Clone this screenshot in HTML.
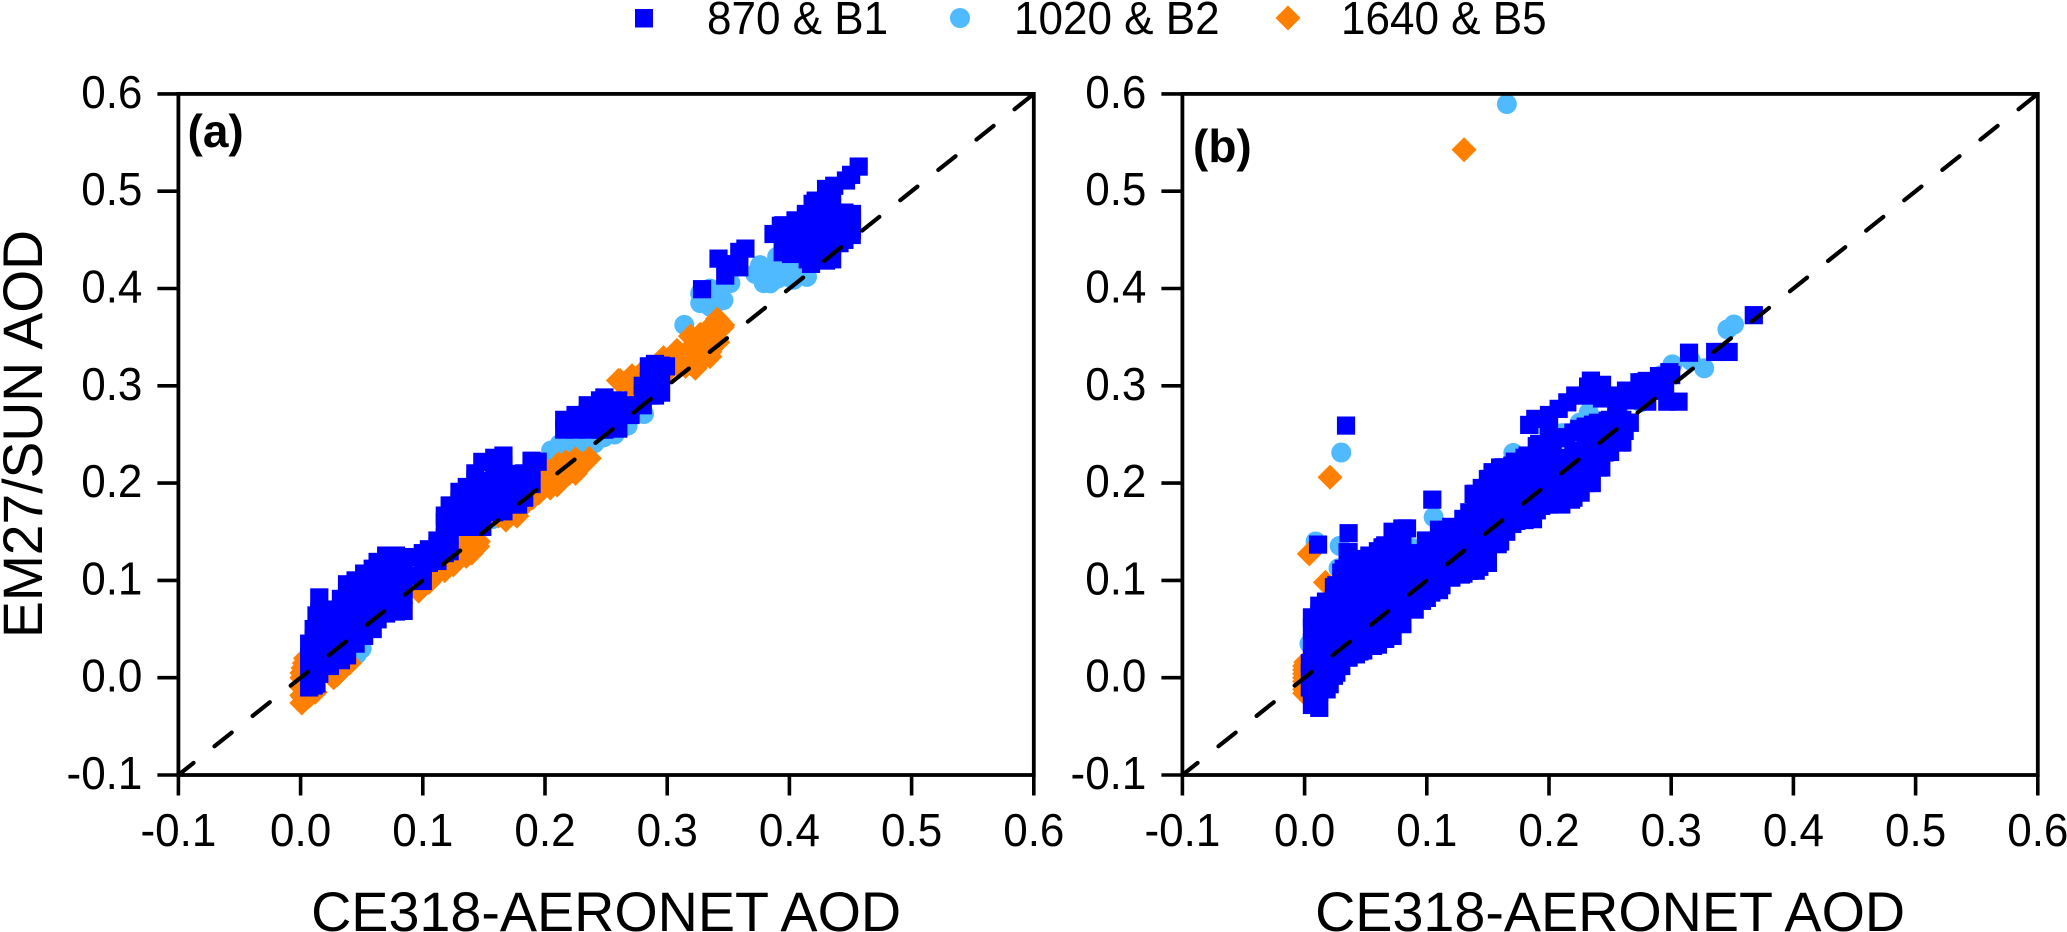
<!DOCTYPE html>
<html lang="en">
<head>
<meta charset="utf-8">
<title>EM27/SUN vs CE318-AERONET AOD</title>
<style>
html,body{margin:0;padding:0;background:#fff;width:2067px;height:932px;overflow:hidden}
svg{display:block}
text{font-family:"Liberation Sans",Arial,sans-serif;fill:#000}
</style>
</head>
<body>
<svg id="chart" xmlns="http://www.w3.org/2000/svg" width="2067" height="932" viewBox="0 0 2067 932">
  <rect x="0" y="0" width="2067" height="932" fill="#fff"/>
  <g>
    <rect x="635" y="9" width="18" height="18.5" fill="#0000ff"/>
    <text transform="translate(707,34) scale(.957,1)" font-size="46">870 &amp; B1</text>
    <circle cx="960" cy="18" r="10" fill="#4fbaff"/>
    <text transform="translate(1014,34) scale(.957,1)" font-size="46">1020 &amp; B2</text>
    <polygon points="1288,5.5 1300.5,18 1288,30.5 1275.5,18" fill="#ff8000"/>
    <text transform="translate(1341,34) scale(.957,1)" font-size="46">1640 &amp; B5</text>
  </g>
  <g id="panel-a"></g>
  <g id="panel-b"></g>
  <text transform="translate(42,434) rotate(-90)" text-anchor="middle" font-size="56" textLength="408" lengthAdjust="spacingAndGlyphs">EM27/SUN AOD</text>
</svg>
<script>
const xTickLabels = ["-0.1","0.0","0.1","0.2","0.3","0.4","0.5","0.6"];
const yTickLabels = ["-0.1","0.0","0.1","0.2","0.3","0.4","0.5","0.6"];
const oneToOne = [-0.1, 0.6];

const a1020 = [[.314,.3626],[.327,.395],[.335,.3814],[.346,.388],[.3517,.4056],[.335,.40],[.342,.395],[.327,.385],[.34,.385],[.376,.424],[.379,.4055],[.3844,.4053],[.39,.4327],[.398,.4122],[.4035,.409],[.4144,.412],[.39,.42],[.382,.415],[.372,.415],[.38,.42],[.39,.41],[.40,.418],[.41,.415],[.405,.425],[.205,.2335],[.219,.2366],[.23,.238],[.2405,.241],[.257,.25],[.2676,.259],[.281,.271],[.212,.24],[.225,.24],[.235,.24],[.248,.247],[.157,.163],[.148,.155],[.046,.024],[.05,.03],[.04,.018],[.01,-.012],[.12,.15],[.125,.155],[.013,.05]];

const a1640 = [[.001,-.026],[.001,-.01],[.001,0],[.002,.01],[.004,.02],[.004,-.021],[.012,-.015],[.002,-.02],[.006,-.02],[.001,-.018],[.008,-.018],[.001,.005],[.003,.015],[.027,0],[.03,.003],[.035,.01],[.04,.015],[.0966,.089],[.10,.095],[.105,.098],[.11,.105],[.12,.115],[.115,.112],[.118,.11],[.125,.12],[.125,.116],[.13,.125],[.1356,.1247],[.1455,.14],[.14,.132],[.14,.128],[.145,.135],[.135,.14],[.13,.135],[.162,.166],[.168,.162],[.172,.167],[.177,.166],[.17,.17],[.18,.175],[.19,.185],[.185,.18],[.195,.19],[.2043,.195],[.2363,.2255],[.21,.2],[.21,.198],[.215,.205],[.22,.21],[.225,.21],[.23,.22],[.232,.22],[.205,.21],[.217,.222],[.215,.215],[.225,.225],[.21,.212],[.2,.2],[.2,.215],[.211,.2197],[.2235,.216],[.2615,.3053],[.2712,.3104],[.26,.3055],[.278,.312],[.285,.305],[.27,.3],[.28,.305],[.297,.329],[.308,.3364],[.319,.351],[.327,.353],[.341,.3687],[.3455,.3623],[.323,.318],[.335,.33],[.3414,.3447],[.31,.32],[.32,.33],[.33,.34],[.33,.35],[.34,.355],[.325,.322],[.3,.325],[.315,.33],[.335,.335],[.345,.36],[.30,.315],[.315,.32],[.325,.325],[.33,.33],[.335,.345],[.335,.36],[.32,.34],[.31,.33]];

const a870 = [
[.007,-.010],[.007,.006],[.007,.022],[.007,.035],
[.0107,-.008],[.0107,.008],[.0107,.024],[.0107,.04],[.0107,.05],
[.013,-.006],[.013,.012],[.013,.03],[.013,.048],[.013,.064],
[.0153,.004],[.0153,.02],[.0153,.036],[.0153,.052],[.0153,.068],[.0153,.0825],
[.024,.012],[.024,.028],[.024,.045],[.024,.06],[.024,.07],
[.033,.018],[.033,.034],[.033,.05],[.033,.066],[.033,.081],
[.038,.023],[.038,.039],[.038,.055],[.038,.071],[.038,.087],[.038,.096],
[.045,.035],[.045,.051],[.045,.067],[.045,.083],[.045,.1],
[.052,.043],[.052,.059],[.052,.075],[.052,.091],[.052,.107],
[.059,.05],[.059,.066],[.059,.082],[.059,.098],[.059,.112],
[.063,.06],[.063,.076],[.063,.092],[.063,.108],[.063,.119],
[.07,.066],[.07,.082],[.07,.098],[.07,.114],[.07,.1255],
[.078,.068],[.078,.084],[.078,.1],[.078,.116],[.078,.1255],
[.0843,.0686],[.0843,.085],[.0843,.1],[.0843,.118],
[.092,.105],[.092,.124],
[.1,.0994],[.1,.115],[.1,.128],
[.105,.118],[.105,.132],
[.112,.12],[.112,.135],[.112,.141],
[.118,.128],[.118,.144],[.118,.16],[.118,.1666],
[.122,.13],[.122,.146],[.122,.162],[.122,.177],
[.13,.155],[.13,.171],[.13,.181],[.13,.191],
[.136,.155],[.136,.171],[.136,.187],[.136,.196],
[.143,.155],[.143,.171],[.143,.187],[.143,.203],[.143,.21],
[.1487,.155],[.1487,.17],[.1487,.186],[.1487,.202],[.1487,.2218],
[.1585,.17],[.1585,.186],[.1585,.202],[.1585,.218],[.1585,.226],
[.166,.171],[.166,.187],[.166,.203],[.166,.219],[.166,.2283],
[.175,.178],[.175,.194],[.175,.2095],
[.178,.178],[.178,.194],[.178,.208],
[.183,.185],[.183,.2],[.183,.21],
[.189,.199],[.189,.215],[.189,.223],
[.194,.222],
[.2157,.255],[.2157,.265],[.225,.255],[.225,.262],[.225,.27],[.235,.255],[.235,.265],[.235,.272],[.235,.28],[.245,.255],[.245,.27],[.245,.285],[.2486,.255],[.2486,.272],[.2486,.288],
[.26,.256],[.26,.27],[.26,.275],[.26,.285],[.27,.27],[.27,.28],[.28,.28],[.28,.29],[.28,.30],[.29,.29],[.29,.30],[.29,.32],[.285,.29],[.285,.305],[.285,.32],[.295,.293],[.295,.31],[.299,.32],[.29,.3225],[.2946,.30],[.2946,.3207],
[.3285,.3993],[.342,.4307],[.3475,.4133],[.359,.4376],[.364,.441],[.359,.4218],[.35,.425],
[.387,.456],[.393,.4644],[.3945,.4373],[.4013,.4355],[.4053,.4698],[.4135,.4766],[.419,.487],[.4215,.4903],[.43,.5023],[.4367,.5056],[.4463,.511],[.4505,.5168],[.4567,.5253],[.4512,.4766],[.4512,.468],
[.4177,.4253],[.43,.4287],[.441,.4466],[.4512,.46],
[.395,.445],[.395,.455],[.395,.465],[.405,.44],[.405,.45],[.405,.46],[.405,.47],[.415,.43],[.415,.445],[.415,.46],[.415,.475],[.425,.43],[.425,.445],[.425,.46],[.425,.475],[.425,.49],[.435,.43],[.435,.445],[.435,.46],[.435,.475],[.435,.49],[.445,.45],[.445,.465],[.445,.478],[.451,.455],[.451,.47]
];

const b1020 = [[.03,.2314],[.1056,.165],[.0287,.1355],[.009,.14],[.0278,.1125],[.004,.035],[.1655,.5896],[.346,.358],[.3514,.363],[.301,.322],[.327,.318],[.316,.326],[.292,.311],[.1708,.231],[.2325,.2725],[.2106,.2513],[.225,.262],[.088,.1333],[.1155,.147],[.195,.26],[.255,.27],[.275,.283]];

const b1640 = [[.0208,.206],[.0038,.1272],[.1305,.5426],[.017,.098],[0,.008],[0,-.012],[.002,.012],[.002,-.018],[0,0],[0,.004],[0,-.004],[0,.012],[0,-.008],[0,-.016],[.001,.016],[.05,.06],[.1,.11],[.16,.18]];

const b870 = [
[.0339,.2591],[.1045,.183],[.036,.1485],[.011,.1368],
[.0043,-.01],[.0043,.005],[.0043,.015],
[.006,-.028],[.006,-.012],[.006,.004],[.006,.02],[.006,.036],[.006,.052],[.006,.062],
[.012,-.031],[.012,-.015],[.012,.001],[.012,.017],[.012,.033],[.012,.049],[.012,.065],[.012,.074],
[.018,-.012],[.018,.004],[.018,.02],[.018,.036],[.018,.052],[.018,.068],[.018,.078],
[.024,.002],[.024,.018],[.024,.034],[.024,.05],[.024,.066],[.024,.082],[.024,.093],
[.03,.012],[.03,.028],[.03,.044],[.03,.06],[.03,.076],[.03,.092],[.03,.108],
[.036,.0207],[.036,.036],[.036,.052],[.036,.068],[.036,.084],[.036,.1],[.036,.116],[.036,.129],
[.042,.024],[.042,.04],[.042,.056],[.042,.072],[.042,.088],[.042,.104],[.042,.118],
[.048,.028],[.048,.044],[.048,.06],[.048,.076],[.048,.092],[.048,.108],[.048,.12],
[.054,.0327],[.054,.05],[.054,.066],[.054,.082],[.054,.098],[.054,.114],[.054,.1255],
[.06,.034],[.06,.05],[.06,.066],[.06,.082],[.06,.098],[.06,.114],[.06,.13],
[.066,.04],[.066,.056],[.066,.072],[.066,.088],[.066,.104],[.066,.12],[.066,.136],
[.072,.043],[.072,.059],[.072,.075],[.072,.091],[.072,.107],[.072,.123],[.072,.139],[.072,.15],
[.08,.055],[.08,.071],[.08,.087],[.08,.103],[.08,.119],[.08,.135],[.08,.153],
[.0838,.1534],
[.09,.07],[.09,.086],[.09,.102],[.09,.118],[.09,.128],
[.1,.082],[.1,.098],[.1,.114],[.1,.13],[.1,.141],
[.11,.09],[.11,.106],[.11,.122],[.11,.138],[.11,.152],
[.12,.103],[.12,.119],[.12,.135],[.12,.152],
[.13,.107],[.13,.123],[.13,.139],[.13,.155],[.13,.163],
[.14,.11],[.14,.126],[.14,.142],[.14,.158],[.14,.174],[.14,.189],
[.15,.118],[.15,.134],[.15,.15],[.15,.166],[.15,.182],[.15,.195],[.15,.204],
[.16,.14],[.16,.156],[.16,.172],[.16,.188],[.16,.204],[.16,.216],
[.17,.158],[.17,.174],[.17,.19],[.17,.206],[.17,.218],
[.18,.163],[.18,.179],[.18,.195],[.18,.211],[.18,.226],
[.19,.172],[.19,.188],[.19,.204],[.19,.22],[.19,.238],
[.2,.178],[.2,.194],[.2,.21],[.2,.226],[.2,.243],
[.21,.178],[.21,.194],[.21,.21],[.21,.226],[.21,.246],
[.22,.185],[.22,.201],[.22,.217],[.22,.233],[.22,.252],
[.23,.2],[.23,.216],[.23,.232],[.23,.248],[.23,.258],
[.24,.216],[.24,.232],[.24,.248],[.24,.262],
[.25,.232],[.25,.248],[.25,.265],
[.26,.242],[.26,.255],[.26,.265],
[.266,.262],
[.0205,-.0067],[.026,.0052],[.0355,.0207],[.056,.0327],[.071,.043],[.071,.0585],[.09,.0704],[.1037,.0875],[.12,.1029],[.135,.1098],[.15,.1183],[.158,.1372],[.1732,.1611],[.1869,.1629],[.1937,.1766],[.21,.1783],[.2259,.1902],[.2259,.2091],[.2428,.216],[.2455,.2314],[.2592,.2416],[.2619,.2536],[.266,.2622],
[.045,.027],[.065,.04],[.08,.056],[.096,.079],[.112,.095],[.128,.106],[.143,.114],[.165,.15],[.18,.162],[.2,.178],[.218,.183],[.235,.2],
[.0175,.0782],[.032,.1118],[.0352,.129],[.053,.1255],[.0638,.134],[.0748,.1495],[.0802,.1534],[.0993,.1409],[.1102,.1519],[.13,.1632],[.1348,.17],[.1383,.1889],[.1511,.2043],[.1538,.2112],[.1628,.2163],[.1825,.2283],[.192,.2403],[.2139,.2472],[.2248,.2557],[.248,.2642],
[.045,.122],[.145,.195],[.172,.222],[.203,.244],[.236,.26],[.12,.155],[.026,.095],
[.1838,.2598],[.1888,.266],[.2,.2617],[.2,.27],[.2079,.2763],[.215,.283],[.2215,.29],[.23,.29],[.232,.2992],[.2343,.3053],[.2434,.301],[.2434,.287],[.25,.29],[.255,.28],[.2567,.2837],[.263,.295],[.265,.295],[.27,.285],[.274,.3036],[.275,.295],[.277,.3036],[.28,.305],[.2804,.2837],[.285,.295],[.29,.3],[.29,.31],[.295,.295],[.2968,.2837],[.2985,.314],[.306,.2837],
[.30,.311],[.3146,.334],[.336,.3348],[.347,.3348],[.3676,.3726]
];

const svgNS = "http://www.w3.org/2000/svg";

function makeX(left) { return v => left + (v + 0.1) * 1222; }
function makeY() { return v => 775 - (v + 0.1) * 973; }

function addText(parent, x, y, str, size, anchor, name) {
  const el = document.createElementNS(svgNS, "text");
  
  
  el.setAttribute("x", x);
  el.setAttribute("y", y);
  el.setAttribute("font-size", size);
  el.setAttribute("text-anchor", anchor);
  el.textContent = str;
  parent.appendChild(el);
  return el;
}

function addTickText(parent, x, y, str, anchor, name) {
  const el = document.createElementNS(svgNS, "text");
  
  
  el.setAttribute("transform", `translate(${x},${y}) scale(.957,1)`);
  el.setAttribute("font-size", 46);
  el.setAttribute("text-anchor", anchor);
  el.textContent = str;
  parent.appendChild(el);
  return el;
}

function addLine(parent, x1, y1, x2, y2, name) {
  const el = document.createElementNS(svgNS, "line");
  
  
  el.setAttribute("x1", x1);
  el.setAttribute("y1", y1);
  el.setAttribute("x2", x2);
  el.setAttribute("y2", y2);
  el.setAttribute("stroke", "#000");
  el.setAttribute("stroke-width", "3.6");
  parent.appendChild(el);
  return el;
}

function drawCircles(parent, pts, sx, sy) {
  pts.forEach(p => {
    const el = document.createElementNS(svgNS, "circle");
    
    
    el.setAttribute("cx", sx(p[0]));
    el.setAttribute("cy", sy(p[1]));
    el.setAttribute("r", 10);
    el.setAttribute("fill", "#4fbaff");
    parent.appendChild(el);
  });
}

function drawDiamonds(parent, pts, sx, sy) {
  pts.forEach(p => {
    const cx = sx(p[0]), cy = sy(p[1]), h = 12.5;
    const el = document.createElementNS(svgNS, "polygon");
    
    
    el.setAttribute("points", `${cx},${cy-h} ${cx+h},${cy} ${cx},${cy+h} ${cx-h},${cy}`);
    el.setAttribute("fill", "#ff8000");
    parent.appendChild(el);
  });
}

function drawSquares(parent, pts, sx, sy) {
  pts.forEach(p => {
    const el = document.createElementNS(svgNS, "rect");
    
    
    el.setAttribute("x", sx(p[0]) - 9.1);
    el.setAttribute("y", sy(p[1]) - 9.1);
    el.setAttribute("width", 18.2);
    el.setAttribute("height", 18.2);
    el.setAttribute("fill", "#0000ff");
    parent.appendChild(el);
  });
}

function drawPanel(id, left, letter, letterX, letterY, pts870, pts1020, pts1640) {
  const g = document.getElementById(id);
  const sx = makeX(left), sy = makeY();

  drawCircles(g, pts1020, sx, sy);
  drawDiamonds(g, pts1640, sx, sy);
  drawSquares(g, pts870, sx, sy);

  const ref = document.createElementNS(svgNS, "line");
  
  
  ref.setAttribute("x1", sx(oneToOne[0]));
  ref.setAttribute("y1", sy(oneToOne[0]));
  ref.setAttribute("x2", sx(oneToOne[1]));
  ref.setAttribute("y2", sy(oneToOne[1]));
  ref.setAttribute("stroke", "#000");
  ref.setAttribute("stroke-width", "4.2");
  ref.setAttribute("stroke-linecap", "round");
  ref.setAttribute("stroke-dasharray", "22 26.7");
  ref.setAttribute("stroke-dashoffset", "2.6");
  g.appendChild(ref);

  const frame = document.createElementNS(svgNS, "rect");
  
  
  frame.setAttribute("x", sx(-0.1));
  frame.setAttribute("y", sy(0.6));
  frame.setAttribute("width", sx(0.6) - sx(-0.1));
  frame.setAttribute("height", sy(-0.1) - sy(0.6));
  frame.setAttribute("fill", "none");
  frame.setAttribute("stroke", "#000");
  frame.setAttribute("stroke-width", "3.8");
  g.appendChild(frame);

  xTickLabels.forEach(t => {
    const v = parseFloat(t);
    addLine(g, sx(v), 775, sx(v), 795.5, 'x-tick');
    addTickText(g, sx(v), 846, t, "middle", 'x-tick-label');
  });
  yTickLabels.forEach(t => {
    const v = parseFloat(t);
    addLine(g, sx(-0.1), sy(v), sx(-0.1) - 21, sy(v), 'y-tick');
    addTickText(g, sx(-0.1) - 36, sy(v) + 14, t, "end", 'y-tick-label');
  });

  const title = addText(g, (sx(-0.1) + sx(0.6)) / 2, 931, "CE318-AERONET AOD", 56, "middle", 'x-axis-title');
  title.setAttribute("textLength", "590");
  title.setAttribute("lengthAdjust", "spacingAndGlyphs");
  const lab = addText(g, letterX, letterY, letter, 46, "start", 'panel-label');
  lab.setAttribute("font-weight", "bold");
}

drawPanel("panel-a", 178.4, "(a)", 187.5, 147, a870, a1020, a1640);
drawPanel("panel-b", 1182.4, "(b)", 1193, 162, b870, b1020, b1640);
</script>
</body>
</html>
